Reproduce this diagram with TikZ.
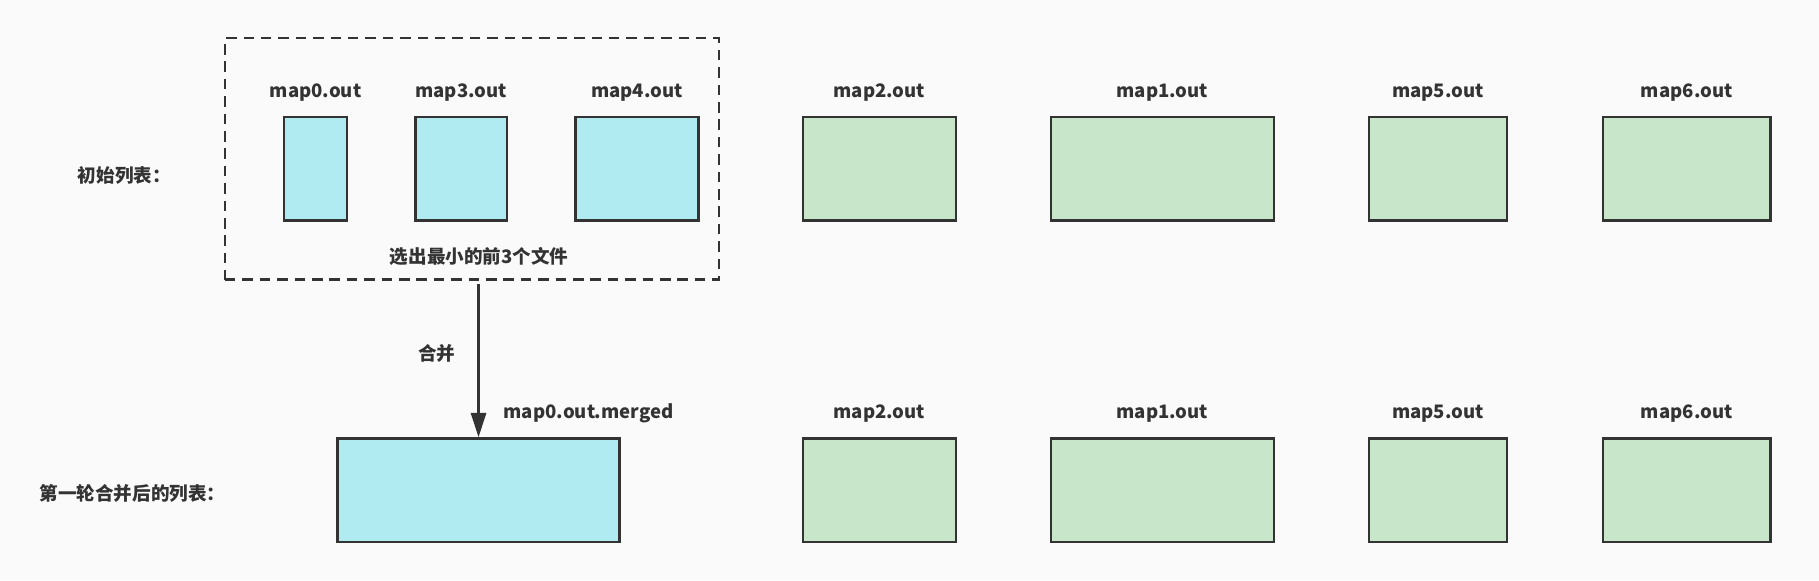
\documentclass[tikz,border=0pt]{standalone}
\usepackage{fontspec}
\setmainfont{Noto Sans CJK SC}
\usetikzlibrary{arrows.meta, positioning}
\definecolor{bgc}{HTML}{FAFAFA}
\definecolor{smallc}{HTML}{B1EBF2}
\definecolor{restc}{HTML}{C8E6C9}
\definecolor{edgec}{HTML}{333333}

\begin{document}
\begin{tikzpicture}[x=1pt, y=-1pt, font=\fontsize{16}{19}\selectfont\bfseries]
\tikzstyle{file} = [rectangle, draw=edgec, line width=2.1pt, minimum height=89pt, inner sep=0pt]
\tikzstyle{small} = [file, fill=smallc]
\tikzstyle{rest} = [file, fill=restc]
\tikzstyle{fname} = [inner sep=0pt, text height=12pt, text depth=4pt, text=edgec]
\tikzstyle{note} = [inner sep=0pt, text=edgec]
\tikzstyle{arrow} = [line width=2.2pt, draw=edgec, -{Triangle[length=21pt, width=13pt]}]
\fill[bgc] (0,0) rectangle (1568,500);
% selected files
\node (sel) [rectangle, draw=edgec, line width=2.1pt, dash pattern=on 9pt off 6pt,
             minimum width=426pt, minimum height=208pt] at (407,137) {};
\node (map0) [small, minimum width=54pt] at (272,145.5) {};
\node (map3) [small, minimum width=79pt] at (397.5,145.5) {};
\node (map4) [small, minimum width=106pt] at (549,145.5) {};
\node (map2) [rest, minimum width=132pt] at (758,145.5) {};
\node (map1) [rest, minimum width=192pt] at (1002,145.5) {};
\node (map5) [rest, minimum width=119pt] at (1239.5,145.5) {};
\node (map6) [rest, minimum width=144pt] at (1454,145.5) {};
\node [fname, above=12pt of map0] {map0.out};
\node [fname, above=12pt of map3] {map3.out};
\node [fname, above=12pt of map4] {map4.out};
\node [fname, above=12pt of map2] {map2.out};
\node [fname, above=12pt of map1] {map1.out};
\node [fname, above=12pt of map5] {map5.out};
\node [fname, above=12pt of map6] {map6.out};
\node (pick) [note] at (413,221) {选出最小的前3个文件};
\node (init) [note, anchor=west] at (67,151) {初始列表：};
% after first merge
\node (merged) [small, minimum width=243pt] at (412.5,422.5) {};
\node (map2b) [rest, minimum width=132pt] at (758,422.5) {};
\node (map1b) [rest, minimum width=192pt] at (1002,422.5) {};
\node (map5b) [rest, minimum width=119pt] at (1239.5,422.5) {};
\node (map6b) [rest, minimum width=144pt] at (1454,422.5) {};
\node [fname, above right=12pt and 21.5pt of merged.north] {map0.out.merged};
\node [fname, above=12pt of map2b] {map2.out};
\node [fname, above=12pt of map1b] {map1.out};
\node [fname, above=12pt of map5b] {map5.out};
\node [fname, above=12pt of map6b] {map6.out};
\node (round1) [note, anchor=west] at (34,425) {第一轮合并后的列表：};
\draw [arrow] ([yshift=-3pt]sel.south -| merged.north) -- node[note, pos=0.45, left=19pt] {合并} (merged.north);
\end{tikzpicture}
\end{document}
